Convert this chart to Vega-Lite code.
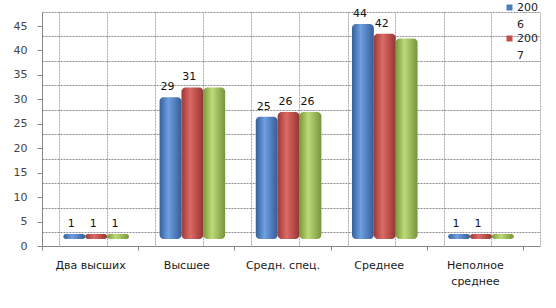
{
  "$schema": "https://vega.github.io/schema/vega-lite/v6.json",
  "width": 498,
  "height": 234,
  "autosize": {"type": "none"},
  "padding": {"left": 42, "top": 12, "right": 16, "bottom": 62},
  "background": "white",
  "config": {
    "view": {"stroke": null},
    "font": "DejaVu Sans",
    "axis": {"labelFont": "DejaVu Sans", "labelFontSize": 11, "labelColor": "#333333", "titleFont": "DejaVu Sans"},
    "legend": {"labelFont": "DejaVu Sans"}
  },
  "data": {
    "values": [
      {"cat": "Два высших", "series": "2006", "value": 1, "label": "1"},
      {"cat": "Два высших", "series": "2007", "value": 1, "label": "1"},
      {"cat": "Два высших", "series": "2008", "value": 1, "label": "1"},
      {"cat": "Высшее", "series": "2006", "value": 29, "label": "29"},
      {"cat": "Высшее", "series": "2007", "value": 31, "label": "31"},
      {"cat": "Высшее", "series": "2008", "value": 31, "label": ""},
      {"cat": "Средн. спец.", "series": "2006", "value": 25, "label": "25"},
      {"cat": "Средн. спец.", "series": "2007", "value": 26, "label": "26"},
      {"cat": "Средн. спец.", "series": "2008", "value": 26, "label": "26"},
      {"cat": "Среднее", "series": "2006", "value": 44, "label": "44"},
      {"cat": "Среднее", "series": "2007", "value": 42, "label": "42"},
      {"cat": "Среднее", "series": "2008", "value": 41, "label": ""},
      {"cat": "Неполное среднее", "series": "2006", "value": 1, "label": "1"},
      {"cat": "Неполное среднее", "series": "2007", "value": 1, "label": "1"},
      {"cat": "Неполное среднее", "series": "2008", "value": 1, "label": ""}
    ]
  },
  "resolve": {"scale": {"x": "independent", "y": "independent"}, "axis": {"x": "independent", "y": "independent"}},
  "layer": [
    {
      "mark": {"type": "point", "opacity": 0},
      "encoding": {
        "x": {"field": "cat", "type": "nominal", "sort": null,
          "scale": {"type": "band", "domain": ["Два высших", "Высшее", "Средн. спец.", "Среднее", "Неполное среднее"], "paddingInner": 0, "paddingOuter": 0.0884, "align": 1},
          "axis": {"orient": "bottom", "grid": true, "gridOpacity": 1, "tickBand": "extent", "labels": false, "ticks": false, "domain": false, "title": null, "gridColor": "#a6a6a6", "gridWidth": 1, "gridDash": [2, 1]}},
        "y": {"field": "value", "type": "quantitative",
          "scale": {"domain": [-2.864, 45], "nice": false, "zero": false},
          "axis": {"orient": "left", "grid": true, "gridOpacity": 1, "values": [0, 5, 10, 15, 20, 25, 30, 35, 40, 45], "labels": false, "ticks": false, "domain": false, "title": null, "gridColor": "#8c8c8c", "gridWidth": 1, "gridDash": [2, 1]}}
      }
    },
    {
      "mark": {"type": "point", "opacity": 0},
      "encoding": {
        "x": {"field": "cat", "type": "nominal", "sort": null,
          "scale": {"type": "band", "domain": ["Два высших", "Высшее", "Средн. спец.", "Среднее", "Неполное среднее"], "paddingInner": 0, "paddingOuter": 0.0884, "align": 1},
          "axis": {"orient": "top", "grid": true, "gridOpacity": 1, "labels": false, "ticks": false, "domain": false, "title": null, "gridColor": "#a6a6a6", "gridWidth": 1, "gridDash": [2, 1]}},
        "y": {"field": "value", "type": "quantitative",
          "scale": {"domain": [-2.864, 45], "nice": false, "zero": false},
          "axis": null}
      }
    },
    {
      "mark": {"type": "square", "opacity": 0, "filled": true},
      "encoding": {
        "x": {"field": "cat", "type": "nominal", "sort": null,
          "scale": {"type": "band", "domain": ["Два высших", "Высшее", "Средн. спец.", "Среднее", "Неполное среднее"], "paddingInner": 0, "paddingOuter": 0.0884, "align": 0},
          "axis": {"orient": "bottom", "grid": false, "tickBand": "extent", "ticks": true, "tickSize": 4, "tickColor": "#868686", "domain": true, "domainColor": "#868686", "labelAngle": 0, "labelPadding": 9, "labelColor": "#1a1a1a", "labelLineHeight": 16, "title": null,
            "labelExpr": "datum.label == 'Неполное среднее' ? ['Неполное', 'среднее'] : datum.label"}},
        "y": {"field": "value", "type": "quantitative",
          "scale": {"domain": [0, 47.864], "nice": false, "zero": false},
          "axis": {"orient": "left", "grid": false, "values": [0, 5, 10, 15, 20, 25, 30, 35, 40, 45], "ticks": true, "tickSize": 5, "tickColor": "#868686", "domain": true, "domainColor": "#868686", "labelPadding": 10, "labelColor": "#444444", "title": null}},
        "color": {"field": "series", "type": "nominal",
          "scale": {"domain": ["2006", "2007", "2008"], "range": ["#4a7ebb", "#c0504d", "#9bbb59"]},
          "legend": {"orient": "none", "legendX": 462, "legendY": -10, "title": null, "values": ["2006", "2007"], "symbolType": "square", "symbolSize": 36, "symbolOpacity": 1, "symbolStrokeWidth": 0, "labelFontSize": 11, "labelColor": "#222222", "labelOffset": 2, "rowPadding": 2, "padding": 0,
            "labelExpr": "[slice(datum.label, 0, 3), slice(datum.label, 3)]",
            "encode": {"labels": {"update": {"lineHeight": {"value": 17}}}}}}
      }
    },
    {
      "encoding": {
        "x": {"field": "cat", "type": "nominal", "sort": null,
          "scale": {"type": "band", "domain": ["Два высших", "Высшее", "Средн. спец.", "Среднее", "Неполное среднее"], "paddingInner": 0, "paddingOuter": 0.0884, "align": 1},
          "axis": null},
        "xOffset": {"field": "series", "type": "nominal",
          "scale": {"domain": ["2006", "2007", "2008", "_"], "paddingInner": 0, "paddingOuter": 0.2}},
        "y": {"field": "value", "type": "quantitative",
          "scale": {"domain": [-1.432, 46.432], "nice": false, "zero": false},
          "axis": null}
      },
      "layer": [
        {
          "transform": [{"filter": "datum.series == '2006'"}],
          "mark": {"type": "bar", "cornerRadius": 4,
            "fill": {"gradient": "linear", "x1": 0, "y1": 0, "x2": 1, "y2": 0, "stops": [{"offset": 0, "color": "#34609a"}, {"offset": 0.4, "color": "#6f9fe2"}, {"offset": 1, "color": "#335d96"}]}},
          "encoding": {"y2": {"datum": 0}}
        },
        {
          "transform": [{"filter": "datum.series == '2007'"}],
          "mark": {"type": "bar", "cornerRadius": 4,
            "fill": {"gradient": "linear", "x1": 0, "y1": 0, "x2": 1, "y2": 0, "stops": [{"offset": 0, "color": "#9b3a37"}, {"offset": 0.4, "color": "#dc6a66"}, {"offset": 1, "color": "#943532"}]}},
          "encoding": {"y2": {"datum": 0}}
        },
        {
          "transform": [{"filter": "datum.series == '2008'"}],
          "mark": {"type": "bar", "cornerRadius": 4,
            "fill": {"gradient": "linear", "x1": 0, "y1": 0, "x2": 1, "y2": 0, "stops": [{"offset": 0, "color": "#7a993d"}, {"offset": 0.4, "color": "#bcdb78"}, {"offset": 1, "color": "#76943a"}]}},
          "encoding": {"y2": {"datum": 0}}
        },
        {
          "mark": {"type": "text", "baseline": "bottom", "dy": -5, "dx": -3, "fontSize": 11, "color": "#111111"},
          "encoding": {"text": {"field": "label"}}
        }
      ]
    }
  ]
}
